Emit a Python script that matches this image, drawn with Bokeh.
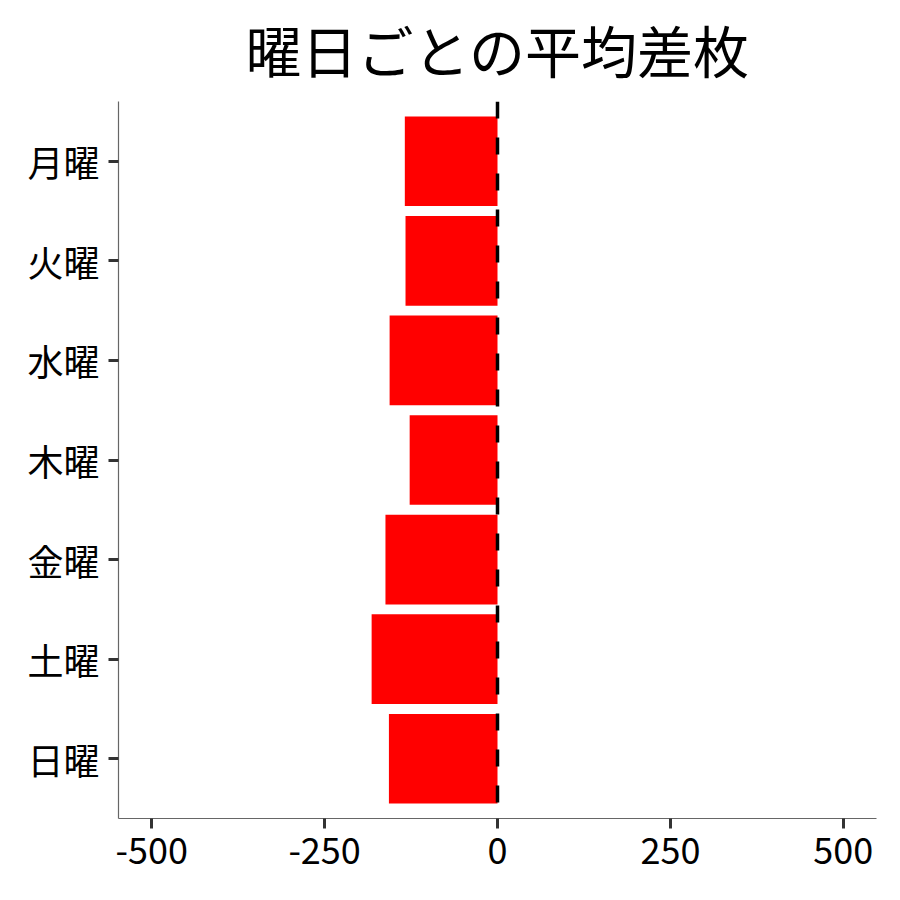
from bokeh.plotting import figure
from bokeh.models import Range1d, FactorRange, Span, FixedTicker
from bokeh.embed import file_html
from bokeh.resources import INLINE

title = "曜日ごとの平均差枚"
days = ["月曜", "火曜", "水曜", "木曜", "金曜", "土曜", "日曜"]
avg_diff = [-134, -133, -156, -127, -162, -182, -157]
x_ticks = [-500, -250, 0, 250, 500]
x_tick_labels = ["-500", "-250", "0", "250", "500"]

FONT = "Noto Sans CJK JP"

p = figure(
    width=884, height=884,
    x_range=Range1d(-548, 548),
    y_range=FactorRange(factors=list(reversed(days)), range_padding=0.1,
                        range_padding_units="absolute"),
    output_backend="svg", toolbar_location=None,
    min_border_left=118, min_border_right=8,
    min_border_top=101, min_border_bottom=66,
    title=title,
)

p.hbar(y=days, left=avg_diff, right=0, height=0.9,
       fill_color="#FF0000", line_color=None)

p.add_layout(Span(location=0, dimension="height", line_color="black",
                  line_width=3.5, line_dash="17 19"))

# glyphs come from Noto Sans CJK JP; the first family only sets tighter line metrics
p.title.text_font = "DejaVu Sans, Noto Sans CJK JP"
p.title.text_font_size = "56px"
p.title.text_font_style = "normal"
p.title.align = "center"
p.title.text_color = "black"
p.title.standoff = 31

p.xgrid.visible = False
p.ygrid.visible = False
p.outline_line_color = None

p.xaxis.ticker = FixedTicker(ticks=x_ticks)
p.xaxis.major_label_overrides = {t: s for t, s in zip(x_ticks, x_tick_labels)}
for ax in (p.xaxis[0], p.yaxis[0]):
    ax.axis_line_color = "#666666"
    ax.axis_line_width = 1.2
    ax.major_tick_line_color = "#333333"
    ax.major_tick_line_width = 3
    ax.major_tick_out = 10
    ax.major_tick_in = 0
    ax.minor_tick_line_color = None
    ax.major_label_text_font = FONT
    ax.major_label_text_font_size = "36px"
    ax.major_label_text_color = "black"
    ax.major_label_standoff = 9

open("out.html", "w").write(file_html(p, INLINE))
